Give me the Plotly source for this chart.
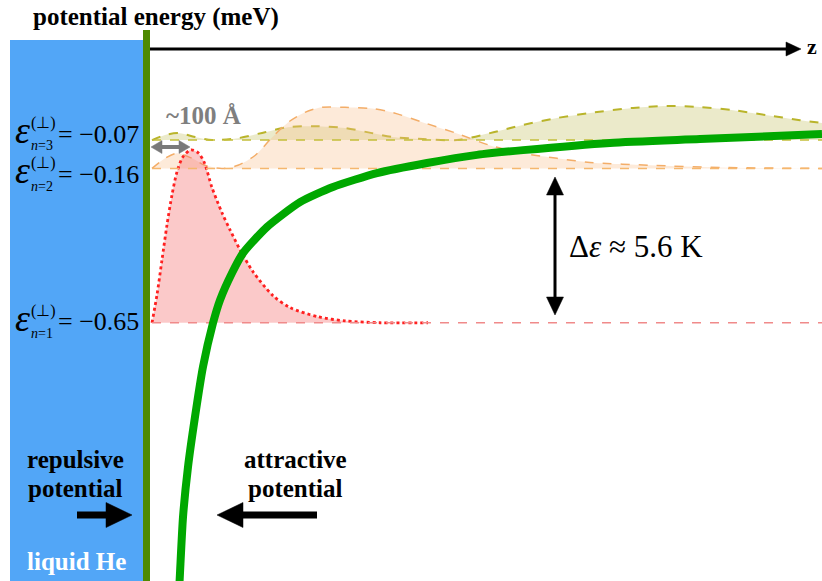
import plotly.graph_objects as go

# ---------------- data (z in Å measured from the helium surface, energies in meV) -------------
levels = {"n1": -0.65, "n2": -0.16, "n3": -0.07}
level_labels = ["−0.07", "−0.16", "−0.65"]

# image-potential  V(z)  (green curve)
pot_z = [72, 75, 82.5, 95, 112.5, 132.5, 157.5, 175, 205, 232.5, 292.5, 375, 457.5,
         567.5, 692.5, 817.5, 932.5, 1150, 1375, 1680]
pot_E = [-1.52, -1.444, -1.267, -1.108, -0.949, -0.790, -0.651, -0.578, -0.492, -0.429,
         -0.346, -0.267, -0.219, -0.175, -0.143, -0.117, -0.102, -0.079, -0.067, -0.051]

# |psi_1|^2 drawn above its level (height in meV units of the drawing)
psi1_z = [5, 17.5, 30, 42.5, 55, 67.5, 82.5, 102.5, 120, 135, 155, 180, 200, 225, 257.5,
          307.5, 350, 420, 487.5, 575, 695]
psi1_h = [0, 0.089, 0.200, 0.311, 0.406, 0.479, 0.527, 0.549, 0.540, 0.511, 0.429, 0.349,
          0.295, 0.232, 0.162, 0.086, 0.048, 0.019, 0.006, 0, 0]

# |psi_2|^2
psi2_z = [5, 37.5, 67.5, 105, 137.5, 180, 220, 262.5, 305, 345, 387.5, 430, 487.5, 555,
          605, 682.5, 767.5, 850, 932.5, 1017.5, 1100, 1250, 1425, 1680]
psi2_h = [0, 0.032, 0.048, 0.032, 0.010, 0, 0.010, 0.041, 0.098, 0.146, 0.178, 0.194,
          0.194, 0.190, 0.178, 0.146, 0.111, 0.073, 0.048, 0.032, 0.019, 0.010, 0.003, 0]

# |psi_3|^2
psi3_z = [5, 37.5, 70, 112.5, 155, 220, 287.5, 345, 412.5, 487.5, 555, 605, 682.5, 767.5,
          850, 932.5, 1017.5, 1100, 1207.5, 1292.5, 1375, 1457.5, 1542.5, 1625, 1680]
psi3_h = [0, 0.016, 0.022, 0.010, 0, 0.006, 0.025, 0.041, 0.044, 0.038, 0.022, 0.010,
          0.003, 0, 0.022, 0.048, 0.070, 0.086, 0.102, 0.108, 0.105, 0.095, 0.079, 0.063,
          0.054]

Z_MIN, Z_MAX = -375, 1680
E_MIN, E_MAX = -1.46984, 0.374603

# ---------------- figure -------------
W, H = 822, 581
FONT = "Liberation Serif"


def px(x):
    return x / W


def py(y):
    return 1 - y / H


fig = go.Figure()

states = [
    ("n3", psi3_z, psi3_h, "#b9b42a", "rgba(190,185,80,0.30)", "dash", 2.0, "#c4bf3a"),
    ("n2", psi2_z, psi2_h, "#f3ad68", "rgba(250,190,140,0.33)", "dash", 1.5, "#f5b76e"),
    ("n1", psi1_z, psi1_h, "#ff2020", "rgba(245,120,120,0.40)", "dot", 2.8, "#f08a8a"),
]

for key, zs, hs, lc, fc, dash, lw, basec in states:
    lev = levels[key]
    # baseline for the fill
    fig.add_trace(go.Scatter(x=[zs[0], zs[-1]], y=[lev, lev], mode="lines",
                             line=dict(width=0), hoverinfo="skip", showlegend=False))
    fig.add_trace(go.Scatter(x=zs, y=[lev + h for h in hs], mode="lines",
                             line=dict(color=lc, width=lw, dash=dash, shape="spline",
                                       smoothing=0.8),
                             fill="tonexty", fillcolor=fc, hoverinfo="skip",
                             showlegend=False))

# energy level lines
for key, zs, hs, lc, fc, dash, lw, basec in states:
    lev = levels[key]
    fig.add_trace(go.Scatter(x=[5, Z_MAX], y=[lev, lev], mode="lines",
                             line=dict(color=basec, width=1.5, dash="dash"),
                             hoverinfo="skip", showlegend=False))

# potential curve
fig.add_trace(go.Scatter(x=pot_z, y=pot_E, mode="lines",
                         line=dict(color="#00a800", width=8, shape="spline", smoothing=0.6),
                         hoverinfo="skip", showlegend=False))

shapes = []
# liquid helium and its surface
shapes.append(dict(type="rect", xref="paper", yref="paper", x0=px(10), x1=px(144),
                   y0=py(581), y1=py(40), fillcolor="#52a6f7", line=dict(width=0),
                   layer="below"))
shapes.append(dict(type="rect", xref="paper", yref="paper", x0=px(143), x1=px(150),
                   y0=py(581), y1=py(30), fillcolor="#4e8a00", line=dict(width=0),
                   layer="above"))


def arrow(x0, y0, x1, y1, lw, hl, hw, color, double=False):
    """Arrow from (x0,y0) to tip (x1,y1) in pixel coordinates."""
    import math
    L = math.hypot(x1 - x0, y1 - y0)
    ux, uy = (x1 - x0) / L, (y1 - y0) / L
    nx, ny = -uy, ux
    sx0, sy0 = x0, y0
    if double:
        sx0, sy0 = x0 + ux * hl * 0.9, y0 + uy * hl * 0.9
    sx1, sy1 = x1 - ux * hl * 0.9, y1 - uy * hl * 0.9
    out = [dict(type="line", xref="paper", yref="paper", x0=px(sx0), y0=py(sy0),
                x1=px(sx1), y1=py(sy1), line=dict(color=color, width=lw))]

    def head(tx, ty, dx, dy):
        bx, by = tx - dx * hl, ty - dy * hl
        p = (f"M{px(tx)},{py(ty)} L{px(bx + nx * hw)},{py(by + ny * hw)} "
             f"L{px(bx - nx * hw)},{py(by - ny * hw)} Z")
        return dict(type="path", xref="paper", yref="paper", path=p, fillcolor=color,
                    line=dict(color=color, width=0.5))
    out.append(head(x1, y1, ux, uy))
    if double:
        out.append(head(x0, y0, -ux, -uy))
    return out


shapes += arrow(150, 49, 801, 49, 3, 15, 7, "black")
shapes += arrow(151, 147, 190, 147, 4, 11, 6.5, "#7a7a7a", double=True)
shapes += arrow(555, 177, 555, 315, 3, 18, 8.5, "black", double=True)
shapes += arrow(77, 515, 132, 515, 7, 26, 12.5, "black")
shapes += arrow(317, 515, 217, 515, 7, 26, 12.5, "black")

ann = []


def text(t, x, y, size, color="black", xanchor="center", family=FONT):
    ann.append(dict(text=t, x=px(x), y=py(y), xref="paper", yref="paper",
                    xanchor=xanchor, yanchor="middle", showarrow=False,
                    font=dict(family=family, size=size, color=color)))


text("<b>potential energy (meV)</b>", 156, 17, 25)
text("<b>z</b>", 812, 47, 22)
text("<b>~100 Å</b>", 203, 116, 25, color="#7f7f7f")
text("Δ<i>ε</i> ≈ 5.6 K", 636, 247, 31)
text("<b>repulsive</b>", 75, 460, 25)
text("<b>potential</b>", 75, 488, 25)
text("<b>attractive</b>", 295, 460, 25)
text("<b>potential</b>", 295, 488, 25)
text("<b>liquid He</b>", 76, 561, 25, color="white")

label_y = [134, 174, 321.5]
for lab, n, yc in zip(level_labels, ["3", "2", "1"], label_y):
    text("<i>ε</i>", 22, yc - 4, 38)
    text("(⊥)", 43, yc - 11, 16)
    text(f"<i>n</i>={n}", 42, yc + 12, 14)
    text(f"= {lab}", 141, yc, 26, xanchor="right")

fig.update_layout(
    width=W, height=H,
    margin=dict(l=0, r=0, t=0, b=0),
    paper_bgcolor="white", plot_bgcolor="white",
    xaxis=dict(range=[Z_MIN, Z_MAX], visible=False, fixedrange=True),
    yaxis=dict(range=[E_MIN, E_MAX], visible=False, fixedrange=True),
    shapes=shapes, annotations=ann, showlegend=False,
)

fig.write_html("out.html")
